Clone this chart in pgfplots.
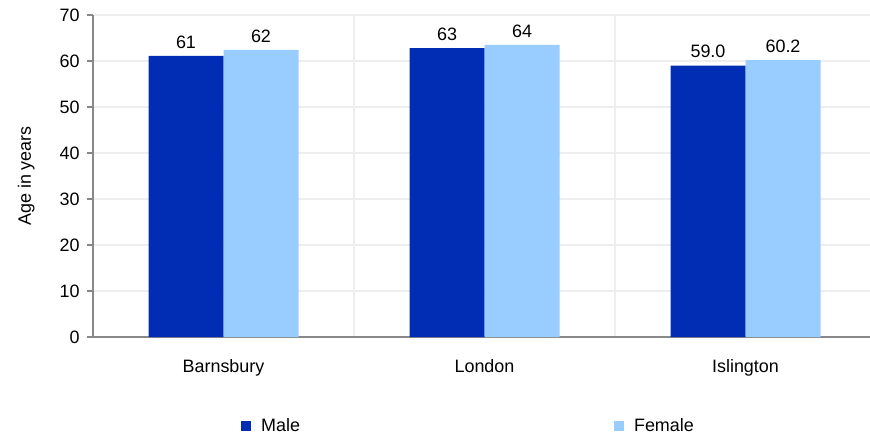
\documentclass[border=0pt]{standalone}
\usepackage{fontspec}
\setmainfont{Liberation Sans}
\usepackage{pgfplots}
\pgfplotsset{compat=1.18}
\definecolor{male}{RGB}{0,45,179}
\definecolor{female}{RGB}{153,204,255}
\definecolor{gridc}{RGB}{238,238,238}
\definecolor{axc}{RGB}{136,136,136}
\begin{document}
\begin{tikzpicture}
\path[use as bounding box] (-93bp,-100bp) rectangle (777bp,337bp);
\begin{axis}[
  at={(0,0)}, anchor=south west,
  scale only axis, width=777bp, height=322bp,
  ybar=0pt, bar width=75bp,
  xmin=-0.5, xmax=2.477, ymin=0, ymax=70,
  ytick={0,10,...,70},
  xtick={0,1,2}, xticklabels={Barnsbury,London,Islington},
  minor xtick={0.5,1.5},
  xminorgrids=true, ymajorgrids=true,
  grid style={gridc, line width=1.5bp},
  minor grid style={gridc, line width=1.5bp},
  axis x line*=bottom, axis y line*=left,
  axis line style={axc, line width=2bp, -},
  xtick style={draw=none},
  ytick style={axc, line width=1.2bp},
  tick align=outside, major tick length=6bp, minor tick length=0pt,
  /pgf/number format/assume math mode=true,
  tick label style={font=\fontsize{18}{21}\selectfont, text=black},
  yticklabel style={xshift=-4bp},
  xticklabel style={yshift=-13bp},
  ylabel={Age in years},
  ylabel style={font=\fontsize{18}{21}\selectfont},
  ylabel shift=18bp,
  nodes near coords,
  point meta=explicit symbolic,
  every node near coord/.append style={font=\fontsize{18}{21}\selectfont, text=black, yshift=4bp},
  legend columns=2,
  legend style={draw=none, fill=none, at={(axis description cs:0.1905,-0.276)}, anchor=west,
     font=\fontsize{18}{21}\selectfont, inner sep=0pt,
     /tikz/every odd column/.append style={column sep=8bp},
     /tikz/every even column/.append style={column sep=312bp}},
  legend image code/.code={\fill[#1] (0bp,-5bp) rectangle (10bp,5bp);},
]
\addplot[fill=male, draw=none] coordinates {(0,61.1) [61] (1,62.8) [63] (2,59.0) [59.0]};
\addplot[fill=female, draw=none] coordinates {(0,62.4) [62] (1,63.5) [64] (2,60.2) [60.2]};
\legend{Male,Female}
\end{axis}
\end{tikzpicture}
\end{document}
